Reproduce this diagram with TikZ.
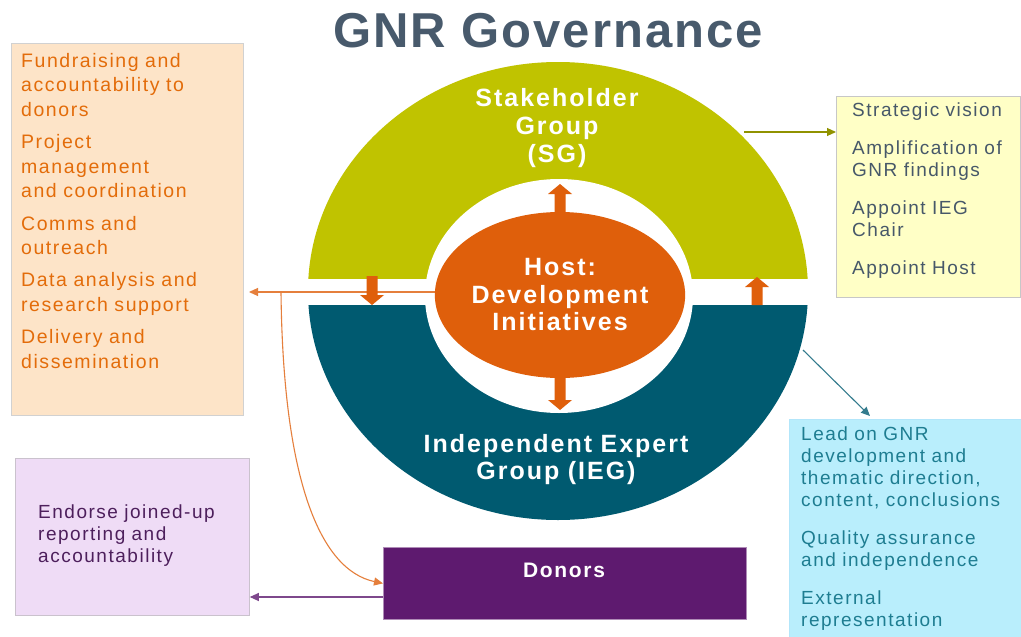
\documentclass[tikz,border=0pt]{standalone}
\usepackage{fontspec}
\setmainfont{Liberation Sans}
\newfontfamily\wide{Liberation Sans}[LetterSpace=8]
\newfontfamily\titlefont{Liberation Sans}[LetterSpace=4]
\usetikzlibrary{arrows.meta,shapes.geometric}

% flecha gruesa: x, cola, base de la punta, punta
\newcommand{\flecha}[4]{%
  \fill[hostorange] ({#1-5.5},#2) -- ({#1-5.5},#3) -- ({#1-12},#3) -- (#1,#4)
    -- ({#1+12},#3) -- ({#1+5.5},#3) -- ({#1+5.5},#2) -- cycle;}

\tikzset{
  caja/.style={draw=#1, line width=0.8pt, anchor=north west, inner sep=0pt},
  lista/.style={anchor=base west, align=left, inner sep=0pt, text width=225pt,
    font=\wide\fontsize{19}{22}\selectfont},
  rotulo/.style={anchor=base, align=center, inner sep=0pt, text width=300pt,
    text=white, font=\wide\bfseries\fontsize{25}{28}\selectfont},
  enlace/.style={line width=1.1pt, -{Triangle[length=9pt,width=8pt]}}
}

\begin{document}
\begin{tikzpicture}[x=1pt,y=-1pt]
        %colores
        \definecolor{sggreen}{HTML}{C0C300}
        \definecolor{iegblue}{HTML}{005A70}
        \definecolor{hostorange}{HTML}{DF5F0B}
        \definecolor{donorpurple}{HTML}{5E1A6F}
        \definecolor{titlegray}{HTML}{485A6C}
        \definecolor{peach}{HTML}{FDE4C8}
        \definecolor{peachtext}{HTML}{E36C0A}
        \definecolor{paleyellow}{HTML}{FFFFC6}
        \definecolor{yellowtext}{HTML}{475869}
        \definecolor{palecyan}{HTML}{B9EEFC}
        \definecolor{cyantext}{HTML}{1E7D91}
        \definecolor{lavender}{HTML}{EFDCF6}
        \definecolor{lavtext}{HTML}{4D1F5C}

        \fill[white] (0,0) rectangle (1021,637);
        \useasboundingbox (0,0) rectangle (1021,637);

        % titulo
        \node[anchor=base, inner sep=0pt, text=titlegray,
          font=\titlefont\bfseries\fontsize{49}{52}\selectfont] (title) at (548,47) {GNR Governance};

        % mitades SG e IEG
        \begin{scope}
            \clip (0,0) rectangle (1021,278);
            \fill[sggreen] (558,291) ellipse [x radius=250, y radius=229];
        \end{scope}
        \begin{scope}
            \clip (0,305) rectangle (1021,637);
            \fill[iegblue] (558,291) ellipse [x radius=250, y radius=229];
        \end{scope}
        \fill[white] (559,296) ellipse [x radius=134, y radius=117];
        \coordinate (sgout) at (744,132);
        \coordinate (iegout) at (803,350);

        \node[rotulo] (sg) at (557,106) {Stakeholder\\Group\\(SG)};
        \node[rotulo, font=\wide\bfseries\fontsize{25}{27}\selectfont] (ieg) at (556,452) {Independent Expert\\Group (IEG)};

        % cajas
        \node[caja=black!18, fill=peach, minimum width=232pt, minimum height=372pt] (ops) at (11,43) {};
        \node[caja=black!22, fill=paleyellow, minimum width=184pt, minimum height=201pt] (vision) at (836,96) {};
        \node[caja=cyan!30, fill=palecyan, minimum width=232pt, minimum height=218pt] (lead) at (789,419) {};
        \node[caja=lavender!70!black!60, fill=lavender, minimum width=234pt, minimum height=157pt] (endorse) at (15,458) {};
        \node[caja=donorpurple!50, fill=donorpurple, minimum width=363pt, minimum height=72pt] (donors) at (383,547) {};

        \node[lista, text=peachtext, font=\wide\fontsize{19.5}{24.5}\selectfont] (opstext) at (21,67)
          {Fundraising and\\accountability to\\donors\\[8pt]Project\\management\\and coordination\\[8pt]Comms and\\outreach\\[8pt]Data analysis and\\research support\\[8pt]Delivery and\\dissemination};
        \node[lista, text=yellowtext] (visiontext) at (852,116)
          {Strategic vision\\[16pt]Amplification of\\GNR findings\\[16pt]Appoint IEG\\Chair\\[16pt]Appoint Host};
        \node[lista, text=cyantext] (leadtext) at (801,440)
          {Lead on GNR\\development and\\thematic direction,\\content, conclusions\\[16pt]Quality assurance\\and independence\\[16pt]External\\representation};
        \node[lista, text=lavtext] (endorsetext) at (38,518)
          {Endorse joined-up\\reporting and\\accountability};
        \node[anchor=base, inner sep=0pt, text=white, font=\wide\bfseries\fontsize{21}{24}\selectfont] (donorstext) at (564,577) {Donors};

        % conectores
        \coordinate (opsend) at (249,292);
        \coordinate (rama) at (281,292);
        \coordinate (endorsefrom) at (383,597);
        \coordinate (leadend) at (870,416);
        \draw[enlace, draw=hostorange!80!white] (559,292) -- (opsend);
        \draw[enlace, draw=hostorange!80!white]
          (rama) .. controls (283,480) and (320,570) .. (donors.west);
        \draw[enlace, draw=donorpurple!80!white] (endorsefrom) -- (endorsefrom -| endorse.east);
        \draw[enlace, draw=sggreen!75!black] (sgout) -- (sgout -| vision.west);
        \draw[enlace, draw=iegblue!80!white] (iegout) -- (leadend);

        % anfitrion
        \node[ellipse, fill=hostorange, minimum width=194pt, minimum height=166pt, inner sep=0pt,
          align=center, text=white, font=\wide\bfseries\fontsize{25}{27.5}\selectfont] (host) at (560,295)
          {Host:\\Development\\Initiatives};

        % flechas gruesas
        \flecha{560}{214}{194}{184}
        \flecha{560}{376}{400}{410}
        \flecha{372}{276}{295}{305}
        \flecha{757}{305}{287}{277}
    \end{tikzpicture}
\end{document}
